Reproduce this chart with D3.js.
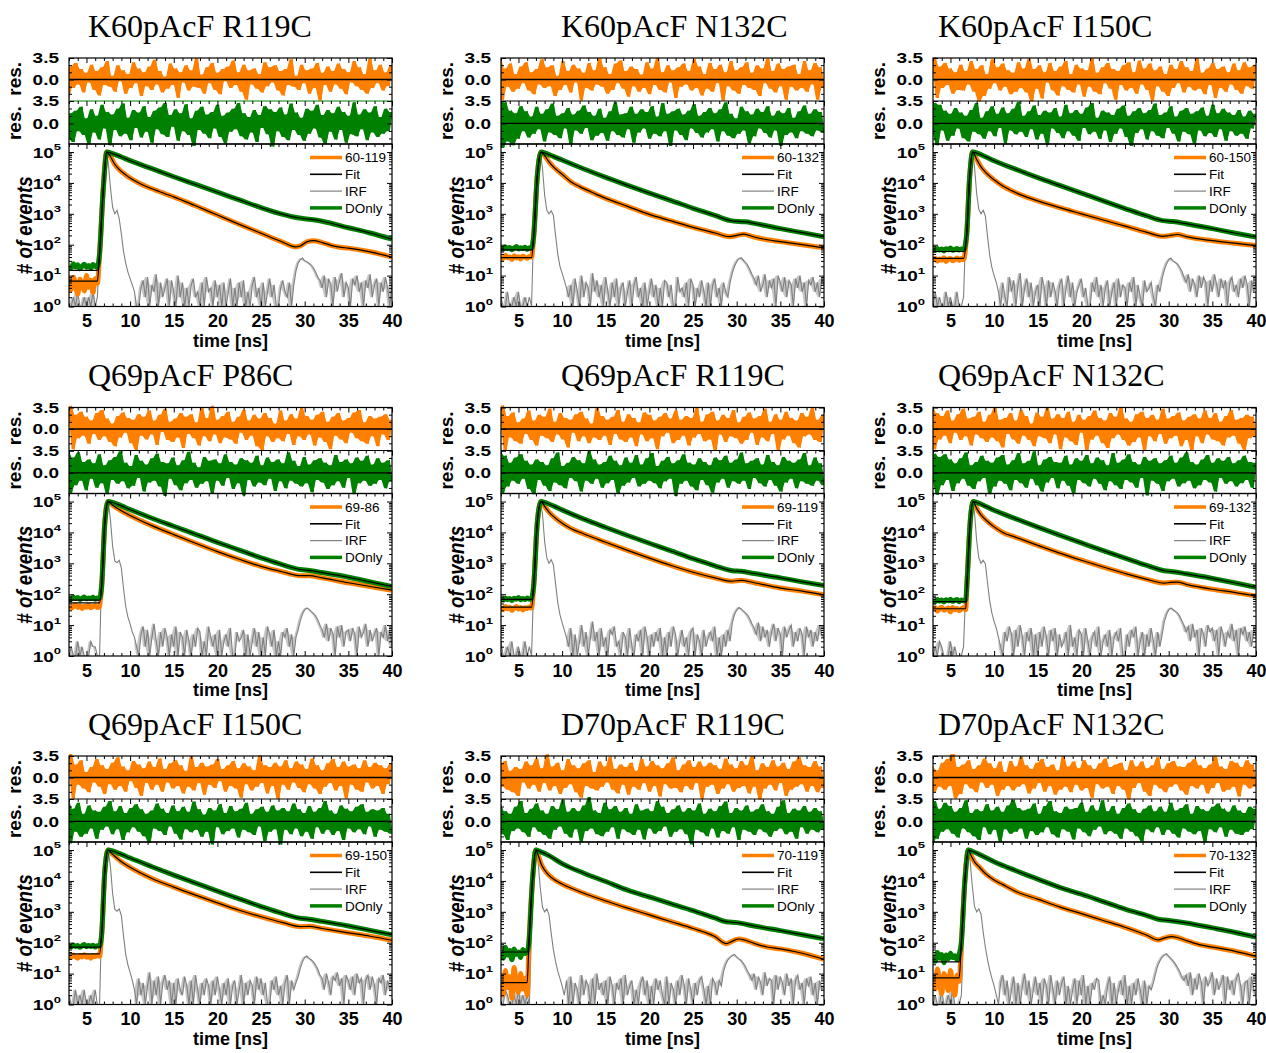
<!DOCTYPE html>
<html><head><meta charset="utf-8">
<script src="https://cdn.jsdelivr.net/npm/d3@7"></script>
<style>
body{margin:0;background:#fff}
svg{display:block}
text{font-family:"Liberation Sans",Arial,sans-serif}
</style></head><body>
<svg id="c" width="1266" height="1053"></svg>
<script>
// ---------------- DATA ----------------
const titles=["K60pAcF R119C","K60pAcF N132C","K60pAcF I150C","Q69pAcF P86C","Q69pAcF R119C","Q69pAcF N132C","Q69pAcF I150C","D70pAcF R119C","D70pAcF N132C"];
const legendLabels=["60-119","60-132","60-150","69-86","69-119","69-132","69-150","70-119","70-132"];
const timeTicks=[5,10,15,20,25,30,35,40];
const decadeTicks=[1,10,100,1000,10000,100000];
const resLabels=["3.5","0.0"];

// log10(counts) before the rise, one value every 0.25 ns from 3 ns
const orangePre=[
[0.82,0.55,0.95,0.68,0.4,0.88,0.72,0.5,1.0,0.62,0.85,0.45,0.9,0.75],
[1.62,1.55,1.66,1.58,1.6,1.52,1.64,1.57,1.61,1.54,1.63,1.59,1.56,1.62,1.6],
[1.5,1.56,1.47,1.54,1.5,1.58,1.46,1.53,1.55,1.48,1.52,1.57,1.49,1.55,1.52],
[1.62,1.55,1.6,1.66,1.57,1.63,1.54,1.61,1.58,1.65,1.56,1.6,1.63,1.57,1.6],
[1.56,1.5,1.6,1.53,1.58,1.47,1.55,1.6,1.52,1.57,1.49,1.56,1.54,1.59,1.55],
[1.5,1.56,1.45,1.53,1.58,1.48,1.52,1.55,1.43,1.57,1.5,1.54,1.47,1.52,1.56,1.5],
[1.57,1.52,1.6,1.55,1.5,1.59,1.54,1.61,1.53,1.57,1.5,1.58,1.55,1.6,1.56],
[0.7,0.3,1.1,0.55,0.9,0.2,1.2,0.65,0.4,1.0,0.5,0.85,0.3],
[0.9,0.5,1.15,0.7,0.35,1.0,0.8,0.45,1.1,0.6,0.3,0.95,0.75]];
const greenPre=[
[1.32,1.25,1.38,1.28,1.35,1.22,1.3,1.37,1.27,1.33,1.24,1.36,1.3,1.28],
[1.9,1.85,1.93,1.87,1.91,1.84,1.89,1.94,1.86,1.9,1.88,1.92,1.85,1.9,1.89],
[1.85,1.82,1.88,1.83,1.86,1.8,1.87,1.84,1.89,1.82,1.85,1.88,1.83,1.86,1.84],
[1.88,1.84,1.9,1.86,1.89,1.83,1.87,1.91,1.85,1.88,1.86,1.9,1.84,1.88,1.87],
[1.85,1.81,1.88,1.83,1.86,1.8,1.87,1.84,1.89,1.82,1.86,1.83,1.88,1.84,1.86],
[1.8,1.76,1.83,1.78,1.81,1.75,1.82,1.79,1.84,1.77,1.8,1.83,1.76,1.81,1.79,1.82],
[1.9,1.86,1.93,1.88,1.91,1.85,1.9,1.94,1.87,1.91,1.88,1.92,1.86,1.9,1.89],
[1.68,1.5,1.85,1.6,1.75,1.45,1.8,1.62,1.7,1.52,1.78,1.65,1.72],
[1.55,1.4,1.68,1.5,1.62,1.35,1.6,1.48,1.66,1.52,1.58,1.45,1.63]];
// fitted baseline, log10(counts)
const orangeFitBase=[0.82,1.58,1.56,1.72,1.58,1.53,1.64,0.71,0.86];
const greenFitBase=[1.17,1.83,1.78,1.81,1.83,1.76,1.86,1.7,1.38];
// rise + decay: [time ns, log10(counts)]
const orangeDecay=[
[[6.5,1.7],[6.9,3.7],[7.3,5],[7.7,4.88],[8.2,4.62],[8.8,4.42],[9.5,4.26],[10,4.16],[11,4.0],[12,3.87],[13,3.76],[14,3.65],[15,3.55],[17.5,3.26],[20,2.96],[22.5,2.66],[25,2.37],[27.5,2.08],[28.9,1.93],[29.5,1.96],[30.3,2.1],[31,2.13],[32,2.07],[33,1.98],[34,1.92],[35,1.89],[37.5,1.77],[40,1.6]],
[[6.75,2.3],[7.15,4.2],[7.6,5],[8,4.88],[8.5,4.68],[9,4.52],[10,4.28],[11,4.04],[12,3.88],[13,3.75],[14,3.62],[15,3.5],[17.5,3.24],[20,2.98],[22.5,2.77],[25,2.56],[27.5,2.38],[29.2,2.26],[30,2.3],[30.8,2.34],[32,2.25],[33.5,2.16],[35,2.1],[37.5,2.0],[40,1.9]],
[[6.85,2.3],[7.2,4.2],[7.55,5],[8,4.76],[8.5,4.52],[9,4.35],[10,4.1],[11,3.9],[12,3.75],[13,3.62],[15,3.42],[17.5,3.2],[20,3.0],[22.5,2.8],[25,2.6],[27.5,2.4],[29.3,2.27],[30,2.29],[31,2.33],[32,2.26],[35,2.13],[37.5,2.05],[40,1.97]],
[[6.75,2.3],[7.1,4.3],[7.45,5],[8,4.88],[9,4.7],[10,4.55],[12.5,4.22],[15,3.93],[17.5,3.65],[20,3.38],[22.5,3.13],[25,2.9],[27.5,2.72],[29.5,2.6],[30.5,2.6],[32,2.53],[35,2.37],[37.5,2.25],[40,2.13]],
[[6.75,2.3],[7.15,4.3],[7.6,5],[8,4.84],[8.5,4.66],[9,4.52],[10,4.3],[11,4.13],[12.5,3.95],[15,3.68],[17.5,3.42],[20,3.17],[22.5,2.93],[25,2.71],[27.5,2.53],[29.5,2.42],[30.5,2.45],[32,2.37],[35,2.2],[37.5,2.1],[40,1.98]],
[[6.9,2.4],[7.25,4.3],[7.6,5],[8,4.78],[8.5,4.57],[9,4.42],[10,4.18],[11,4.0],[12.5,3.84],[15,3.58],[17.5,3.33],[20,3.1],[22.5,2.88],[25,2.67],[27.5,2.48],[29.5,2.36],[30.2,2.38],[31,2.39],[32,2.32],[35,2.16],[37.5,2.06],[40,1.94]],
[[6.75,2.3],[7.1,4.3],[7.45,5],[8,4.86],[9,4.62],[10,4.44],[12.5,4.08],[15,3.8],[17.5,3.54],[20,3.29],[22.5,3.05],[25,2.84],[27.5,2.65],[29.5,2.52],[30.5,2.53],[32,2.46],[35,2.32],[37.5,2.21],[40,2.08]],
[[6.2,2.0],[6.6,4.0],[7.0,5],[7.3,4.8],[7.6,4.55],[8,4.35],[8.5,4.18],[9,4.06],[10,3.9],[11,3.77],[12.5,3.6],[15,3.35],[17.5,3.12],[20,2.9],[22.5,2.68],[25,2.46],[27.5,2.2],[28.8,1.97],[29.5,2.05],[30.2,2.12],[31,2.08],[32,1.98],[33.5,1.86],[35,1.8],[37.5,1.66],[40,1.46]],
[[6.25,2.0],[6.65,4.0],[7.05,5],[7.4,4.8],[7.8,4.6],[8.3,4.45],[9,4.24],[10,4.03],[11,3.88],[12.5,3.66],[15,3.41],[17.5,3.16],[20,2.94],[22.5,2.72],[25,2.5],[27.5,2.24],[28.8,2.09],[29.5,2.15],[30.3,2.2],[31,2.17],[32,2.07],[33.5,1.94],[35,1.86],[37.5,1.73],[40,1.56]]];
const greenDecay=[
[[6.5,1.7],[6.9,3.7],[7.35,5],[8,4.95],[9,4.84],[10,4.72],[12.5,4.46],[15,4.2],[17.5,3.95],[20,3.7],[22.5,3.45],[25,3.2],[27.5,2.98],[29,2.88],[30,2.84],[31,2.81],[32,2.76],[35,2.55],[37.5,2.38],[40,2.18]],
[[6.75,2.3],[7.15,4.2],[7.6,5],[8,4.97],[9,4.86],[10,4.74],[12.5,4.45],[15,4.18],[17.5,3.92],[20,3.67],[22.5,3.43],[25,3.18],[27.5,2.95],[29.3,2.78],[30.3,2.75],[31,2.74],[32,2.69],[35,2.52],[37.5,2.39],[40,2.26]],
[[6.85,2.3],[7.2,4.2],[7.55,5],[8,4.97],[9,4.85],[10,4.72],[12.5,4.44],[15,4.17],[17.5,3.92],[20,3.67],[22.5,3.42],[25,3.17],[27.5,2.93],[29.3,2.78],[30.5,2.75],[32,2.68],[35,2.52],[37.5,2.38],[40,2.25]],
[[6.75,2.3],[7.1,4.3],[7.5,5],[8,4.97],[9,4.86],[10,4.74],[12.5,4.46],[15,4.2],[17.5,3.94],[20,3.68],[22.5,3.43],[25,3.18],[27.5,2.95],[29.5,2.8],[30.5,2.77],[32,2.7],[35,2.55],[37.5,2.4],[40,2.25]],
[[6.75,2.3],[7.15,4.3],[7.6,5],[8,4.97],[9,4.86],[10,4.73],[12.5,4.43],[15,4.16],[17.5,3.9],[20,3.65],[22.5,3.4],[25,3.15],[27.5,2.92],[29.5,2.76],[30.5,2.74],[32,2.67],[35,2.53],[37.5,2.4],[40,2.28]],
[[6.9,2.4],[7.25,4.3],[7.6,5],[8,4.97],[9,4.85],[10,4.72],[12.5,4.44],[15,4.17],[17.5,3.91],[20,3.66],[22.5,3.41],[25,3.17],[27.5,2.93],[29.5,2.76],[30.5,2.73],[32,2.66],[35,2.51],[37.5,2.37],[40,2.22]],
[[6.75,2.3],[7.1,4.3],[7.5,5],[8,4.97],[9,4.86],[10,4.74],[12.5,4.46],[15,4.19],[17.5,3.93],[20,3.67],[22.5,3.42],[25,3.17],[27.5,2.94],[29.5,2.79],[30.5,2.76],[32,2.69],[35,2.54],[37.5,2.4],[40,2.26]],
[[6.2,2.0],[6.6,4.0],[7.0,5],[7.5,4.95],[8.5,4.82],[10,4.56],[12.5,4.25],[15,3.98],[17.5,3.7],[20,3.48],[22.5,3.26],[25,3.04],[27.5,2.8],[28.8,2.68],[30,2.65],[32,2.54],[35,2.39],[37.5,2.26],[40,2.13]],
[[6.25,2.0],[6.65,4.0],[7.05,5],[7.5,4.96],[8.5,4.83],[10,4.62],[12.5,4.33],[15,4.06],[17.5,3.79],[20,3.57],[22.5,3.33],[25,3.09],[27.5,2.88],[28.8,2.76],[30,2.72],[32,2.64],[35,2.48],[37.5,2.34],[40,2.18]]];
// IRF counts, one value every 0.25 ns from 3 ns to 40 ns
const irfCounts=[
[1,0,2,1, 3,0,1,2, 0,2,1,3, 1,2,60,3000, 40000,100000,45000,7000, 1600,1000,1300,700, 220,60,25,13, 8,5,3,1,
 0,4,7,2, 9,1,5,3, 11,0,6,2, 4,8,1,7, 3,0,10,2, 6,1,4,0, 5,8,2,3, 0,6,1,9, 3,4,0,7, 2,5,1,6,
 0,3,8,1, 4,0,6,2, 7,1,3,0, 5,9,2,4, 1,6,0,3, 8,2,5,1, 0,4,7,3, 2,6,1,5,
 14,25,33,37, 30,28,25,22, 18,13,9,7, 4,10,2,8, 5,1,9,3, 7,12,2,6, 4,0,8,5, 10,3,6,1, 7,4,11,2, 5,8,0,6, 3,9,4,1, 6],
[2,0,1,3, 0,1,2,0, 3,1,0,2, 1,2,0,400, 15000,80000,100000,30000, 4000,1300,1000,1250, 900,200,50,20, 12,7,4,2,
 5,0,8,3, 1,10,2,6, 4,0,12,3, 7,2,5,0, 9,3,1,6, 2,8,0,4, 6,1,3,7, 0,5,9,2, 4,1,6,0, 3,8,2,5,
 1,4,0,7, 6,2,5,1, 0,9,3,4, 2,6,1,8, 5,0,4,2, 7,3,1,6, 0,5,8,2, 4,1,6,3,
 2,6,12,20, 28,35,38,32, 27,22,16,11, 8,5,10,3, 5,11,2,7, 4,8,1,10, 6,3,9,2, 7,5,0,8, 4,10,3,6, 1,7,5,9, 3,6,2,8, 5],
[0,3,1,2, 1,0,3,1, 2,1,0,3, 0,1,2,300, 12000,75000,100000,35000, 4500,1400,1000,1300, 850,180,45,18, 10,6,3,1,
 6,2,0,9, 3,7,1,5, 12,0,4,8, 2,6,0,3, 5,1,9,4, 0,7,2,6, 3,0,5,8, 1,4,10,2, 6,0,3,5, 8,2,4,1,
 0,6,3,9, 2,5,1,4, 7,0,3,6, 1,8,2,5, 4,0,6,3, 9,1,5,2, 0,7,3,4, 6,2,0,5,
 3,8,15,24, 32,37,30,27, 24,19,14,9, 6,11,3,8, 5,2,10,4, 9,6,1,7, 3,11,5,2, 8,4,7,0, 6,9,3,5, 2,8,4,10, 5,1,7,3, 6],
[1,2,0,1, 3,1,2,0, 1,0,3,2, 2,0,1,700, 25000,95000,100000,25000, 3500,1200,1050,1250, 700,150,40,18, 11,6,4,2,
 0,5,9,2, 7,1,4,11, 3,0,6,2, 8,4,1,5, 2,9,0,6, 4,1,7,3, 0,5,2,8, 6,1,3,0, 9,4,2,5, 1,7,0,3,
 5,2,8,1, 0,6,3,4, 7,1,5,0, 3,8,2,6, 1,4,0,9, 5,2,7,1, 3,0,6,4, 8,2,5,1,
 4,7,14,23, 31,36,33,28, 24,20,15,10, 7,4,11,3, 8,5,1,9, 4,10,2,6, 7,3,8,5, 1,9,4,6, 11,2,7,3, 5,8,0,6, 4,10,3,7, 2],
[3,1,0,2, 1,3,0,1, 2,0,1,3, 0,2,1,250, 10000,70000,100000,40000, 5000,1500,1000,1300, 900,220,55,22, 12,7,4,2,
 8,1,5,0, 3,10,2,6, 0,4,13,3, 6,1,8,2, 4,0,7,5, 9,2,3,0, 6,4,1,8, 2,0,5,3, 7,1,9,4, 0,5,2,6,
 3,8,1,4, 0,6,2,9, 5,1,3,7, 2,4,0,6, 8,1,5,3, 0,7,2,4, 6,3,9,1, 4,0,5,2,
 7,3,12,22, 30,37,34,29, 25,21,16,11, 8,5,12,3, 9,4,7,2, 6,11,3,8, 5,1,9,4, 7,10,2,6, 3,8,5,0, 9,4,7,2, 6,3,10,5, 4],
[0,2,1,3, 2,0,1,0, 3,1,2,0, 1,0,2,150, 8000,65000,100000,45000, 5500,1500,1000,1250, 950,230,60,24, 13,8,4,2,
 0,6,3,9, 5,1,7,2, 10,4,0,6, 3,8,1,5, 0,6,2,9, 4,1,7,3, 8,0,5,2, 3,6,1,10, 2,4,0,7, 5,1,8,3,
 0,4,6,2, 9,1,3,5, 2,7,0,4, 6,3,8,1, 0,5,2,7, 4,9,1,3, 6,0,5,2, 8,3,1,6,
 2,5,13,22, 31,36,32,28, 25,20,14,10, 6,9,3,11, 4,7,1,8, 5,2,10,6, 8,3,7,1, 9,5,2,6, 4,11,3,7, 0,8,5,9, 3,6,2,7, 5],
[2,1,0,3, 0,2,1,3, 1,0,2,1, 3,0,1,600, 22000,90000,100000,28000, 3800,1200,1050,1250, 750,160,42,19, 11,6,3,1,
 7,2,5,0, 4,11,1,6, 2,8,0,5, 9,3,6,1, 5,0,7,3, 2,8,4,0, 6,1,9,3, 0,5,2,7, 4,1,6,2, 8,3,0,5,
 2,7,1,4, 6,0,3,9, 1,5,2,6, 4,0,8,3, 7,2,5,1, 0,6,3,8, 2,4,1,5, 9,0,6,3,
 5,8,15,24, 33,37,31,28, 24,19,14,9, 7,3,10,5, 2,8,6,11, 4,7,1,9, 6,3,8,2, 10,5,7,1, 6,9,3,8, 4,0,7,5, 9,2,6,3, 5],
[1,0,3,2, 0,1,2,1, 3,0,2,1, 2,0,300,15000, 100000,40000,6000,1400, 1000,1250,800,200, 60,25,12,7, 4,2,6,0,
 8,1,5,3, 0,9,2,6, 4,1,7,0, 10,3,5,2, 6,0,8,4, 1,5,3,7, 0,9,2,4, 6,1,3,0, 5,8,2,6, 1,4,0,7,
 3,6,2,0, 8,1,5,3, 0,6,2,9, 4,1,7,3, 0,5,2,6, 8,3,1,4, 0,7,5,2, 6,4,12,20,
 28,33,38,42, 35,30,27,22, 17,12,9,6, 10,3,8,5, 2,11,4,7, 6,1,9,3, 8,5,2,10, 4,7,0,6, 9,3,5,1, 7,4,8,2, 5,0,6,3, 4],
[0,2,1,0, 3,1,0,2, 1,3,0,1, 0,2,200,12000, 100000,45000,7000,1500, 1000,1250,850,220, 70,28,13,7, 4,2,0,5,
 9,2,6,0, 3,8,1,5, 0,4,10,2, 6,1,3,8, 2,5,0,7, 4,0,9,3, 1,6,2,5, 8,0,4,1, 3,7,0,6, 2,9,1,4,
 0,5,3,7, 6,1,2,0, 4,8,1,5, 0,3,6,2, 9,1,4,0, 5,2,7,3, 1,6,0,4, 3,5,10,18,
 26,34,40,44, 37,31,26,21, 16,12,8,6, 9,4,11,2, 7,3,10,5, 1,8,4,6, 11,2,7,3, 5,9,0,8, 3,6,2,7, 10,4,1,5, 6,0,8,3, 2]];
// weighted residuals (x10), evenly spaced over 3-40 ns
const resOrange=[
[-33,21,-14,27,-8,17,-21,11,-5,24,-17,14,-26,20,-9,30,-12,6,-20,23,-3,15,-23,9,-14,28,-6,18,-27,12,-11,21,-17,32,-8,14,-21,5,-15,26,-9,18,-30,12,-5,23,-18,15,-12,35,-14,8,-23,20,-6,27,-17,11,-24,17,-3,21,-14,31,-9,12,-20,24,-33,15,-8,18,-15,9,-21,28,-11,20,-5,23,-18,14,-26,17,-9,33,-12,6,-17,24,-6,15,-23,18,-14,27,-34,11,-9,21,-20,14,-8,26,-15,17,-24,12,-5,30,-11,20,-17,9,-23,34,-14,15,-6,24,-18,12,-11,23],
[36,-33,18,-12,26,-20,9,-15,21,-6,28,-18,12,-24,17,-8,33,-14,20,-11,23,-27,6,-17,30,-9,14,-21,24,-5,18,-34,11,-14,27,-18,15,-8,34,-12,20,-23,9,-17,26,-6,31,-15,14,-28,21,-11,17,-20,8,-14,28,-24,18,-9,35,-17,12,-21,23,-5,15,-30,20,-12,26,-8,14,-18,33,-14,21,-26,9,-15,27,-20,17,-6,24,-34,12,-11,30,-18,15,-23,20,-9,28,-14,11,-17,23,-27,18,-6,34,-15,14,-21,26,-11,17,-33,21,-12,24,-18,9,-14,30,-20,15,-8,27,-33,20,-14],
[15,36,-30,21,-14,27,-9,18,-23,12,-17,24,-18,14,-8,30,-20,17,-36,23,-27,9,-15,33,-6,20,-18,26,-12,15,-24,11,-20,28,-14,18,-21,34,-36,17,-15,23,-31,12,-5,27,-18,14,-26,21,-11,30,-17,9,-21,24,-8,18,-28,15,-12,34,-20,11,-24,20,-6,27,-15,17,-33,14,-9,23,-18,28,-14,12,-23,31,-8,18,-17,26,-34,15,-11,21,-20,9,-27,24,-14,17,-6,30,-21,20,-12,14,-18,35,-15,11,-24,18,-9,27,-30,17,-14,21,-20,12,-8,26,-17,15,-23,28,-11,20,-15,24],
[18,38,-33,23,-15,28,-11,20,-24,14,-8,26,-18,31,-12,17,-21,9,-28,21,-14,27,-6,18,-23,15,-34,24,-11,20,-17,30,-9,14,-26,23,-5,33,-18,12,-21,17,-14,26,-31,20,-8,24,-15,11,-27,35,-12,18,-20,38,-9,15,-23,21,-14,28,-17,12,-24,20,-6,31,-18,14,-11,23,-28,17,-34,26,-12,18,-21,9,-15,30,-20,14,-8,24,-26,17,-12,34,-18,21,-9,15,-27,23,-14,28,-21,12,-33,20,-11,26,-17,14,-23,18,-6,27,-15,31,-20,11,-24,21,-12,17,-28,20,-9,24,-18,15],
[9,40,-36,21,-14,27,-20,11,-24,17,-8,30,-18,14,-27,23,-11,20,-15,33,-21,12,-9,26,-17,18,-30,15,-6,24,-20,28,-12,17,-23,9,-14,35,-18,21,-11,15,-26,20,-8,31,-17,12,-21,24,-14,18,-28,11,-9,27,-20,23,-15,14,-33,20,-12,26,-6,17,-23,30,-18,15,-11,21,-27,18,-14,34,-8,12,-20,24,-17,28,-36,14,-9,23,-21,18,-12,31,-15,11,-24,20,-18,27,-6,17,-26,21,-14,33,-20,12,-8,24,-36,15,-17,28,-11,18,-23,14,-30,26,-12,20,-9,35,-18,15,-21,23],
[38,-33,26,-17,21,-11,30,-23,14,-6,24,-18,33,-12,17,-27,20,-9,28,-15,12,-21,23,-14,35,-20,15,-30,18,-8,26,-17,14,-24,31,-11,21,-18,9,-28,27,-12,20,-15,34,-23,17,-9,24,-33,18,-14,28,-20,12,-26,23,-6,15,-36,21,-17,30,-11,18,-23,14,-31,26,-15,20,-9,36,-18,17,-27,12,-21,24,-14,28,-34,18,-12,23,-20,15,-8,33,-24,17,-15,21,-11,27,-28,14,-18,20,-35,24,-12,17,-23,30,-9,18,-17,26,-20,12,-27,21,-14,31,-11,15,-24,18,-34,23,-15,20,-12],
[15,40,-34,21,-12,28,-18,9,-24,17,-8,30,-15,20,-27,14,-11,24,-20,33,-14,18,-23,12,-6,27,-17,21,-30,15,-9,26,-20,17,-12,31,-23,14,-8,23,-18,28,-14,20,-26,11,-15,35,-21,17,-9,24,-28,18,-12,21,-17,30,-6,14,-23,20,-14,27,-18,15,-33,23,-11,18,-21,12,-15,36,-9,20,-26,17,-14,24,-35,18,-12,28,-20,15,-8,26,-17,21,-24,14,-11,31,-18,20,-27,12,-15,23,-9,30,-21,17,-14,26,-34,18,-12,21,-20,15,-23,28,-8,17,-18,24,-14,20,-27,15,-11,23],
[21,-15,27,-20,11,-24,17,-30,14,-8,26,-18,20,-12,31,-23,15,-9,38,-21,18,-14,24,-27,12,-17,30,-11,20,-24,15,-33,23,-14,28,-18,9,-21,26,-15,18,-8,34,-20,14,-26,21,-12,17,-28,24,-15,11,-20,30,-9,18,-23,27,-14,20,-31,15,-11,23,-18,33,-17,12,-24,21,-14,28,-20,17,-9,26,-35,18,-15,24,-12,20,-27,14,-18,31,-11,21,-23,15,-17,27,-14,20,-26,35,-15,12,-36,23,-18,17,-12,28,-21,18,-9,24,-30,14,-20,26,-15,33,-11,20,-23,17,-14,27,-24,18,-17],
[18,-23,12,-15,24,-20,30,-14,42,-34,17,-27,21,-11,28,-18,14,-24,20,-8,31,-17,23,-12,15,-30,26,-20,9,-14,27,-21,18,-15,34,-11,20,-26,14,-18,24,-9,30,-23,17,-14,21,-28,12,-20,35,-15,18,-24,26,-12,15,-21,28,-17,20,-33,14,-11,23,-18,31,-15,17,-27,21,-14,24,-20,12,-36,28,-17,18,-9,26,-23,15,-30,20,-12,33,-18,14,-24,23,-15,27,-11,18,-21,17,-28,24,-14,30,-18,20,-12,15,-26,21,-17,35,-9,18,-23,14,-20,27,-15,24,-31,17,-12,28,-18,21,-15]];
const resGreen=[
[-23,16,-29,20,-12,26,-18,8,-32,22,-14,12,-25,29,-8,18,-34,14,-10,23,-20,31,-16,9,-26,21,-7,17,-22,27,-13,10,-30,20,-9,25,-17,32,-21,13,-5,22,-27,16,-12,30,-18,8,-35,20,-10,26,-16,14,-23,18,-8,29,-21,12,-31,17,-13,23,-9,32,-20,16,-25,10,-14,21,-29,13,-7,27,-17,22,-36,18,-12,25,-21,14,-26,31,-10,17,-18,9,-27,23,-16,20,-8,29,-22,13,-32,21,-13,16,-25,26,-10,18,-30,12,-17,33,-20,14,-9,22,-26,17,-14,27,-21,10,-16,23,-12,18],
[35,-40,33,-28,20,-34,16,-24,27,-12,19,-22,11,-16,26,-9,15,-28,22,-14,31,-18,12,-23,16,-8,24,-32,14,-11,20,-16,28,-7,18,-26,12,-19,23,-15,9,-27,19,-12,33,-18,14,-22,16,-9,26,-30,15,-14,22,-8,18,-24,27,-16,11,-20,32,-12,15,-35,19,-11,23,-18,14,-26,20,-8,30,-15,12,-22,18,-14,24,-9,16,-28,22,-12,33,-19,15,-23,8,-16,26,-11,19,-31,14,-20,23,-8,18,-15,27,-22,12,-11,20,-35,16,-18,24,-14,9,-23,19,-12,28,-16,15,-20,22,-11,18,-15],
[-16,32,-34,29,-11,20,-27,15,-19,24,-8,17,-23,12,-28,21,-13,32,-17,9,-24,19,-12,27,-20,15,-7,25,-31,16,-11,23,-17,34,-13,12,-21,19,-9,28,-25,13,-16,20,-33,17,-8,24,-15,11,-23,29,-12,16,-19,21,-27,15,-7,25,-17,32,-13,9,-24,20,-11,17,-29,13,-16,23,-8,28,-21,12,-35,19,-15,24,-9,16,-25,21,-12,31,-19,13,-23,17,-7,27,-16,11,-28,20,-13,24,-17,15,-32,19,-11,25,-20,12,-15,29,-21,16,-9,23,-27,17,-12,13,-19,21,-16,11,-24,20,-8,15],
[34,-32,24,-19,32,-12,17,-27,21,-9,15,-23,29,-16,12,-33,20,-11,25,-17,34,-13,16,-24,11,-20,28,-8,19,-29,13,-15,23,-12,30,-21,17,-36,15,-9,24,-19,12,-27,20,-16,33,-11,16,-23,9,-17,25,-13,19,-32,21,-12,15,-20,29,-8,17,-25,13,-16,23,-35,20,-11,16,-21,27,-15,12,-19,24,-9,17,-28,21,-13,15,-24,32,-12,19,-17,11,-21,25,-16,13,-30,20,-11,23,-15,16,-25,12,-19,28,-13,17,-23,21,-8,15,-33,24,-16,19,-12,27,-20,13,-17,23,-11,16,-24,20,-13],
[33,-32,27,-21,16,-12,24,-17,29,-9,19,-25,13,-33,21,-11,17,-20,12,-28,23,-15,32,-19,11,-24,16,-8,25,-13,20,-29,15,-12,34,-17,21,-9,13,-23,17,-16,27,-11,19,-32,12,-20,24,-15,16,-8,28,-21,13,-17,23,-12,31,-16,11,-24,19,-13,25,-9,15,-36,20,-17,29,-12,16,-21,13,-27,23,-11,17,-19,12,-31,24,-15,20,-9,27,-23,16,-13,21,-17,32,-12,15,-25,19,-8,23,-16,13,-21,28,-11,17,-20,12,-29,25,-15,19,-9,16,-24,21,-13,31,-17,12,-20,24,-12,15,-19],
[-13,30,-34,25,-19,29,-11,21,-28,15,-16,23,-9,32,-20,12,-25,17,-13,27,-8,19,-33,16,-21,24,-12,28,-17,13,-27,20,-11,31,-16,15,-23,19,-9,34,-19,12,-29,21,-15,25,-8,17,-24,16,-12,27,-20,13,-32,23,-11,19,-16,28,-21,15,-9,24,-17,20,-27,12,-13,31,-19,16,-25,21,-11,29,-15,17,-23,13,-8,25,-35,19,-12,23,-17,15,-28,20,-13,27,-9,16,-21,24,-16,32,-12,17,-24,13,-19,21,-11,28,-15,16,-29,23,-8,19,-17,25,-13,15,-21,20,-16,27,-11,17,-23,16],
[33,-34,20,-16,29,-24,12,-19,25,-11,17,-27,15,-13,23,-8,32,-20,16,-12,24,-29,13,-17,21,-9,27,-16,19,-23,12,-33,17,-11,28,-15,20,-21,13,-8,25,-19,16,-28,23,-12,15,-17,31,-13,19,-24,11,-16,21,-36,17,-9,27,-20,13,-15,24,-11,16,-25,20,-13,29,-17,12,-21,19,-8,23,-31,15,-16,25,-12,17,-36,21,-13,16,-20,28,-11,19,-23,13,-16,24,-27,15,-9,21,-19,32,-13,17,-21,12,-15,25,-29,20,-11,16,-17,23,-12,27,-20,15,-8,19,-24,17,-13,21,-16,12,-19],
[27,-20,16,-29,12,-15,23,-11,32,-17,13,-24,20,-9,28,-16,17,-21,12,-27,24,-13,19,-8,34,-19,15,-25,21,-12,16,-32,25,-15,38,-11,17,-20,13,-23,29,-16,19,-9,24,-27,15,-12,21,-17,12,-21,27,-13,17,-28,20,-11,16,-19,32,-15,23,-8,13,-24,19,-16,25,-12,15,-20,21,-36,17,-13,28,-17,12,-23,20,-11,16,-25,24,-15,31,-19,13,-9,21,-29,17,-13,25,-16,15,-21,19,-12,27,-17,16,-24,12,-15,23,-11,33,-20,13,-16,20,-27,17,-9,24,-19,15,-13,21,-17,16,-12],
[-38,32,-27,20,-16,29,-12,24,-19,15,-25,21,-11,33,-17,13,-23,19,-29,16,-9,27,-20,17,-13,23,-32,15,-12,25,-19,34,-16,21,-11,17,-27,20,-15,28,-21,12,-17,24,-9,32,-20,16,-25,13,-12,23,-16,19,-28,21,-11,29,-17,15,-23,25,-13,17,-8,33,-20,16,-15,24,-19,12,-27,21,-11,28,-16,19,-23,13,-31,20,-12,25,-17,16,-9,23,-21,15,-13,29,-19,17,-25,21,-11,27,-16,12,-20,24,-15,19,-32,16,-12,23,-17,28,-9,20,-24,15,-13,25,-19,17,-21,13,-16,23,-12,20]];

// ---------------- DRAWING ----------------
const svg=d3.select("#c");
const colLeft=[69,501,933], rowTop=[58,407.5,756], titleX=[88,561,938];
const W=323, RH=43, MAIN_TOP=86, MAIN_BOT=248.5;
const ORANGE="#ff8000", GREEN="#008000", GRAY="#808080";
const STEP=0.25;
const defs=svg.append("defs");

function tickAxis(g, axisFn, scale, vals, size, tr){
  const a=axisFn(scale).tickValues(vals).tickSize(size).tickFormat("");
  const s=g.append("g").attr("transform",tr).call(a);
  s.select(".domain").remove();
  s.selectAll("line").attr("stroke","#000").attr("stroke-width",1);
  return s;
}
// filled envelope of a noisy series: between each value and its neighbour
function noiseBand(vals, xf, yf, defined){
  const n=vals.length;
  return d3.area().defined((d,i)=>defined?defined(i):true)
    .x((d,i)=>xf(i))
    .y0((d,i)=>yf(Math.min(vals[i],vals[Math.min(i+1,n-1)])))
    .y1((d,i)=>yf(Math.max(vals[i],vals[Math.min(i+1,n-1)])));
}

titles.forEach((title,p)=>{
  const c=p%3, r=Math.floor(p/3);
  const L=colLeft[c], Y=rowTop[r];
  const g=svg.append("g");
  const x=d3.scaleLinear().domain([3,40]).range([L,L+W]);
  const yr1=d3.scaleLinear().domain([-3.5,3.5]).range([Y+RH,Y]);
  const yr2=d3.scaleLinear().domain([-3.2,3.5]).range([Y+2*RH,Y+RH]);
  const ym=d3.scaleLog().domain([1,Math.pow(10,5.26)]).range([Y+MAIN_BOT,Y+MAIN_TOP]);

  g.append("text").attr("x",titleX[c]).attr("y",Y-21.5)
   .style("font-family","'Liberation Serif','Times New Roman',serif").style("font-size","32px")
   .text(title);

  defs.append("clipPath").attr("id","cm"+p).append("rect")
    .attr("x",L).attr("y",Y+MAIN_TOP).attr("width",W).attr("height",MAIN_BOT-MAIN_TOP);
  defs.append("clipPath").attr("id","cr"+p).append("rect")
    .attr("x",L).attr("y",Y-2).attr("width",W).attr("height",2*RH+6);

  // ---- residuals ----
  const rg=g.append("g").attr("clip-path",`url(#cr${p})`);
  [[resOrange[p],yr1,ORANGE],[resGreen[p],yr2,GREEN]].forEach(([arr,ys,col])=>{
    const xf=i=>x(3+i*37/(arr.length-1)), yf=v=>ys(v/10);
    rg.append("path").datum(arr).attr("fill",col).attr("stroke","none").attr("d",noiseBand(arr,xf,yf));
    rg.append("path").datum(arr).attr("fill","none").attr("stroke",col).attr("stroke-width",1)
      .attr("d",d3.line().x((d,i)=>xf(i)).y(d=>yf(d)));
  });
  g.append("line").attr("x1",L).attr("x2",L+W).attr("y1",yr1(0)).attr("y2",yr1(0)).attr("stroke","#000").attr("stroke-width",1.3);
  if(p!==0) g.append("line").attr("x1",L).attr("x2",L+W).attr("y1",yr2(0)).attr("y2",yr2(0)).attr("stroke","#000").attr("stroke-width",1.3);

  // ---- main ----
  const mg=g.append("g").attr("clip-path",`url(#cm${p})`);
  const logLine=d3.line().x(d=>x(d[0])).y(d=>ym(Math.pow(10,d[1]))).curve(d3.curveMonotoneX);
  const irf=irfCounts[p];
  const irfX=i=>x(3+i*STEP), irfY=v=>ym(Math.max(v,1));
  mg.append("path").datum(irf).attr("fill",GRAY).attr("fill-opacity",0.45).attr("stroke","none")
    .attr("d",noiseBand(irf,irfX,irfY,i=>(3+i*STEP)<6.2||(3+i*STEP)>=10.5));
  mg.append("path").datum(irf).attr("fill","none").attr("stroke",GRAY).attr("stroke-width",1.1)
    .attr("d",d3.line().x((d,i)=>irfX(i)).y(d=>irfY(d)));

  const oData=orangePre[p].map((v,i)=>[3+i*STEP,v]).concat(orangeDecay[p]);
  const gData=greenPre[p].map((v,i)=>[3+i*STEP,v]).concat(greenDecay[p]);
  const oOn=3+(orangePre[p].length-1)*STEP, gOn=3+(greenPre[p].length-1)*STEP;
  const oFit=[[3,orangeFitBase[p]],[oOn,orangeFitBase[p]]].concat(orangeDecay[p]);
  const gFit=[[3,greenFitBase[p]],[gOn,greenFitBase[p]]].concat(greenDecay[p]);
  mg.append("path").datum(oData).attr("fill","none").attr("stroke",ORANGE).attr("stroke-width",5).attr("d",logLine);
  mg.append("path").datum(gData).attr("fill","none").attr("stroke",GREEN).attr("stroke-width",5).attr("d",logLine);
  mg.append("path").datum(oFit).attr("fill","none").attr("stroke","#000").attr("stroke-width",1.2).attr("d",logLine);
  mg.append("path").datum(gFit).attr("fill","none").attr("stroke","#000").attr("stroke-width",1.2).attr("d",logLine);

  // ---- frames ----
  g.append("rect").attr("x",L).attr("y",Y).attr("width",W).attr("height",2*RH)
   .attr("fill","none").attr("stroke","#000").attr("stroke-width",1.2);
  g.append("line").attr("x1",L).attr("x2",L+W).attr("y1",Y+RH).attr("y2",Y+RH)
   .attr("stroke",p===0?GREEN:"#000").attr("stroke-width",1.2);
  g.append("rect").attr("x",L).attr("y",Y+MAIN_TOP).attr("width",W).attr("height",MAIN_BOT-MAIN_TOP)
   .attr("fill","none").attr("stroke","#000").attr("stroke-width",1.2);

  // ---- ticks ----
  const minorT=d3.range(3,41).filter(t=>timeTicks.indexOf(t)<0);
  [Y, Y+RH, Y+MAIN_TOP].forEach(yy=>{
    tickAxis(g,d3.axisTop,x,timeTicks,-5,`translate(0,${yy})`);
    tickAxis(g,d3.axisTop,x,minorT,-3,`translate(0,${yy})`);
  });
  tickAxis(g,d3.axisBottom,x,minorT,-3,`translate(0,${Y+MAIN_BOT})`);
  const xa=g.append("g").attr("transform",`translate(0,${Y+MAIN_BOT})`)
    .call(d3.axisBottom(x).tickValues(timeTicks).tickSize(-5).tickPadding(8).tickFormat(d3.format("d")));
  xa.select(".domain").remove();
  xa.selectAll("line").attr("stroke","#000");
  xa.selectAll("text").style("font-size","18px").style("font-weight","bold").attr("fill","#000");
  g.append("text").attr("x",L+W/2).attr("y",Y+MAIN_BOT+40).attr("text-anchor","middle")
   .style("font-size","18px").style("font-weight","bold").text("time [ns]");

  const minorY=[];
  decadeTicks.forEach(d=>{for(let k=2;k<=9;k++){if(d*k<Math.pow(10,5.26))minorY.push(d*k);}});
  tickAxis(g,d3.axisLeft,ym,decadeTicks,-5,`translate(${L},0)`);
  tickAxis(g,d3.axisLeft,ym,minorY,-3,`translate(${L},0)`);
  tickAxis(g,d3.axisRight,ym,decadeTicks,-5,`translate(${L+W},0)`);
  tickAxis(g,d3.axisRight,ym,minorY,-3,`translate(${L+W},0)`);
  const rMin=[-7/3,-7/6,7/6,7/3];
  [[yr1,[3.5,0,-3.5]],[yr2,[3.5,0]]].forEach(([ys,maj])=>{
    tickAxis(g,d3.axisLeft,ys,maj,-5,`translate(${L},0)`);
    tickAxis(g,d3.axisLeft,ys,rMin,-3,`translate(${L},0)`);
    tickAxis(g,d3.axisRight,ys,maj,-5,`translate(${L+W},0)`);
    tickAxis(g,d3.axisRight,ys,rMin,-3,`translate(${L+W},0)`);
  });

  decadeTicks.forEach(v=>{
    const t=g.append("text").attr("transform",`translate(${L-8},${ym(v)}) scale(1,0.75)`)
      .attr("text-anchor","end").style("font-size","19px").style("font-weight","bold");
    t.append("tspan").attr("dy","0.4em").text("10");
    t.append("tspan").attr("dy","-0.75em").style("font-size","13px").text(String(Math.round(Math.log10(v))));
  });
  [[yr1(3.5),resLabels[0]],[yr1(0),resLabels[1]],[yr2(3.5),resLabels[0]],[yr2(0),resLabels[1]]].forEach(([yy,s])=>{
    g.append("text").attr("transform",`translate(${L-10},${yy}) scale(1,0.75)`).attr("dy","0.36em")
     .attr("text-anchor","end").style("font-size","19px").style("font-weight","bold").text(s);
  });
  g.append("text").attr("transform",`translate(${L-48},${Y+RH}) rotate(-90)`).attr("text-anchor","middle")
   .attr("xml:space","preserve").style("font-size","19px").style("font-weight","bold").text("res.  res.");
  const yl=g.append("text").attr("transform",`translate(${L-37},${(2*Y+MAIN_TOP+MAIN_BOT)/2}) rotate(-90) scale(0.85,1)`)
   .attr("text-anchor","middle").style("font-size","22px").style("font-weight","bold");
  yl.append("tspan").text("# ");
  yl.append("tspan").style("font-style","italic").text("of events");

  const items=[[legendLabels[p],ORANGE,3.5],["Fit","#000",1.6],["IRF",GRAY,1.2],["DOnly",GREEN,3.5]];
  items.forEach((it,i)=>{
    const yy=Y+MAIN_TOP+13.5+i*16.8;
    g.append("line").attr("x1",L+241).attr("x2",L+273).attr("y1",yy).attr("y2",yy)
     .attr("stroke",it[1]).attr("stroke-width",it[2]);
    g.append("text").attr("x",L+276).attr("y",yy).attr("dy","0.36em").style("font-size","13.5px").text(it[0]);
  });
});
</script>
</body></html>
